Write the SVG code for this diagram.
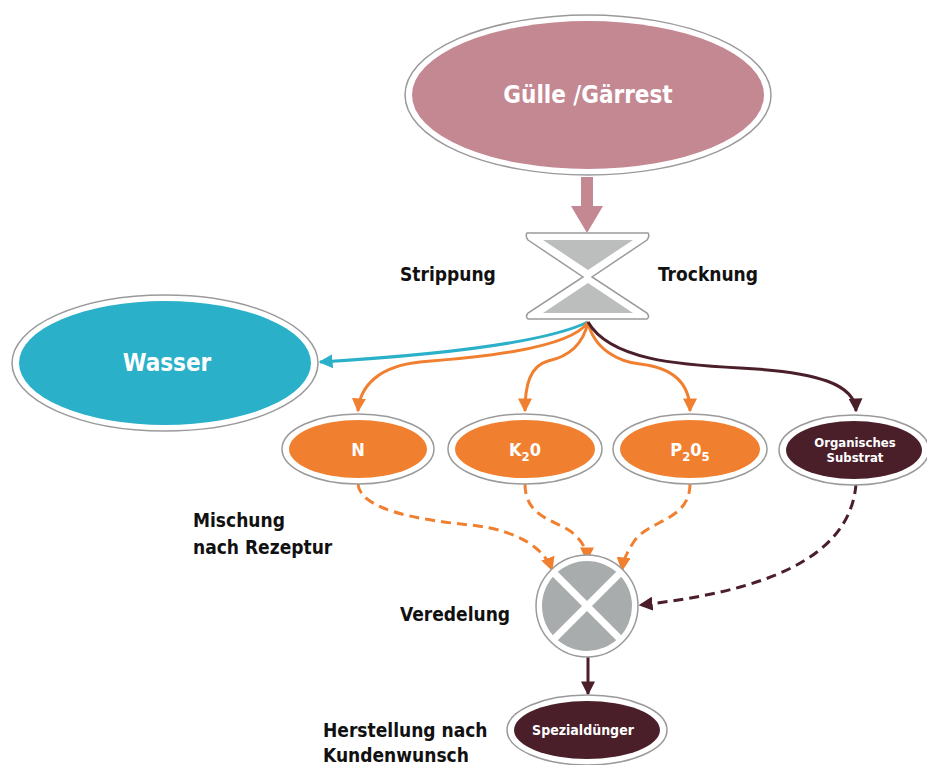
<svg xmlns="http://www.w3.org/2000/svg" width="927" height="765" viewBox="0 0 927 765">
<style>
.ring{fill:#fff;stroke:#9a9a9a;stroke-width:1.5}
.lbl{font-family:"DejaVu Sans Condensed","DejaVu Sans",sans-serif;font-weight:bold;fill:#111;font-size:19px}
.wt{font-family:"DejaVu Sans Condensed","DejaVu Sans",sans-serif;font-weight:bold;fill:#fff;text-anchor:middle}
.c{fill:none;stroke-width:3}
.or{stroke:#f08030}
.dk{stroke:#4a1f2a}
.cy{stroke:#2ab0c8}
.dash{stroke-dasharray:10 6}
</style>
<defs>
<marker id="ao" viewBox="0 0 10 10" refX="9" refY="5" markerWidth="14" markerHeight="14" markerUnits="userSpaceOnUse" orient="auto"><path d="M0,0 L10,5 L0,10 z" fill="#f08030"/></marker>
<marker id="ad" viewBox="0 0 10 10" refX="9" refY="5" markerWidth="14" markerHeight="14" markerUnits="userSpaceOnUse" orient="auto"><path d="M0,0 L10,5 L0,10 z" fill="#4a1f2a"/></marker>
<marker id="ac" viewBox="0 0 10 10" refX="9" refY="5" markerWidth="14" markerHeight="14" markerUnits="userSpaceOnUse" orient="auto"><path d="M0,0 L10,5 L0,10 z" fill="#2ab0c8"/></marker>
</defs>

<g id="connectors">
<path d="M581,177 L593,177 L593,206 L603,206 L587,233 L571,206 L581,206 z" fill="#c48893"/>
<path class="c cy" d="M588,322 C540,345 420,356 320,362" marker-end="url(#ac)"/>
<path class="c or" d="M588,322 C570,350 470,358 420,362 C380,366 360,385 358,411" marker-end="url(#ao)"/>
<path class="c or" d="M588,322 C582,350 562,358 548,361 C530,366 525,385 525,411" marker-end="url(#ao)"/>
<path class="c or" d="M588,322 C594,350 620,362 640,364 C675,368 690,385 690,411" marker-end="url(#ao)"/>
<path class="c dk" d="M588,322 C610,360 680,365 740,368 C820,372 855,385 856,411" marker-end="url(#ad)"/>
<path class="c or dash" d="M358,484 C360,510 420,520 470,525 C520,530 545,550 552,570" marker-end="url(#ao)"/>
<path class="c or dash" d="M525,484 C525,520 560,520 575,535 C585,545 587,552 587,560" marker-end="url(#ao)"/>
<path class="c or dash" d="M690,484 C690,520 650,520 635,540 C625,555 623,562 622,570" marker-end="url(#ao)"/>
<path class="c dk dash" d="M856,484 C850,560 760,592 640,605" marker-end="url(#ad)"/>
<path class="c dk" d="M588,657 L588,694" marker-end="url(#ad)"/>
</g>

<g id="guelle">
<ellipse class="ring" cx="588" cy="95" rx="183" ry="80"/>
<ellipse cx="588" cy="95" rx="176" ry="74" fill="#c48893"/>
<text class="wt" x="588" y="103" font-size="24">Gülle /Gärrest</text>
</g>

<g id="trennung">
<path d="M527,233 L648,233 Q650,236 647,240 L592,277 L647,313 Q650,317 647,319 L528,319 Q525,317 528,313 L583,277 L528,240 Q525,236 527,233 z" class="ring"/>
<path d="M543,240 L633,240 L588,270 z" fill="#bcbdbd"/>
<path d="M588,283 L633,313 L543,313 z" fill="#bcbdbd"/>
<text class="lbl" x="400" y="281">Strippung</text>
<text class="lbl" x="658" y="281">Trocknung</text>
</g>

<g id="wasser">
<ellipse class="ring" cx="165" cy="363" rx="153" ry="68"/>
<ellipse cx="165" cy="363" rx="146" ry="62" fill="#2ab0c8"/>
<text class="wt" x="167" y="371" font-size="24">Wasser</text>
</g>

<g id="n">
<ellipse class="ring" cx="358" cy="449" rx="76" ry="35"/>
<ellipse cx="358" cy="449" rx="69" ry="29" fill="#f08030"/>
<text class="wt" x="358" y="456" font-size="18">N</text>
</g>

<g id="k2o">
<ellipse class="ring" cx="525" cy="449" rx="77" ry="35"/>
<ellipse cx="525" cy="449" rx="70" ry="29" fill="#f08030"/>
<text class="wt" x="525" y="456" font-size="18">K<tspan font-size="13" dy="5">2</tspan><tspan dy="-5">0</tspan></text>
</g>

<g id="p2o5">
<ellipse class="ring" cx="690" cy="449" rx="77" ry="35"/>
<ellipse cx="690" cy="449" rx="70" ry="29" fill="#f08030"/>
<text class="wt" x="690" y="456" font-size="18">P<tspan font-size="13" dy="5">2</tspan><tspan dy="-5">0</tspan><tspan font-size="13" dy="5">5</tspan></text>
</g>

<g id="organisch">
<ellipse class="ring" cx="854" cy="450" rx="75" ry="35"/>
<ellipse cx="854" cy="450" rx="68" ry="29" fill="#4a1f2a"/>
<text class="wt" x="855" y="447" font-size="13">Organisches</text>
<text class="wt" x="855" y="462" font-size="13">Substrat</text>
</g>

<g id="veredelung">
<circle class="ring" cx="587" cy="606" r="51"/>
<circle cx="587" cy="606" r="45" fill="#a9acad"/>
<path d="M555,574 L619,638 M619,574 L555,638" stroke="#fff" stroke-width="7"/>
<text class="lbl" x="400" y="621">Veredelung</text>
</g>

<g id="spezial">
<ellipse class="ring" cx="587" cy="730" rx="80" ry="35"/>
<ellipse cx="587" cy="730" rx="73" ry="29" fill="#4a1f2a"/>
<text class="wt" x="583" y="735" font-size="14">Spezialdünger</text>
</g>

<g id="labels">
<text class="lbl" x="193" y="527">Mischung</text>
<text class="lbl" x="193" y="554">nach Rezeptur</text>
<text class="lbl" x="323" y="737">Herstellung nach</text>
<text class="lbl" x="323" y="762">Kundenwunsch</text>
</g>
</svg>
